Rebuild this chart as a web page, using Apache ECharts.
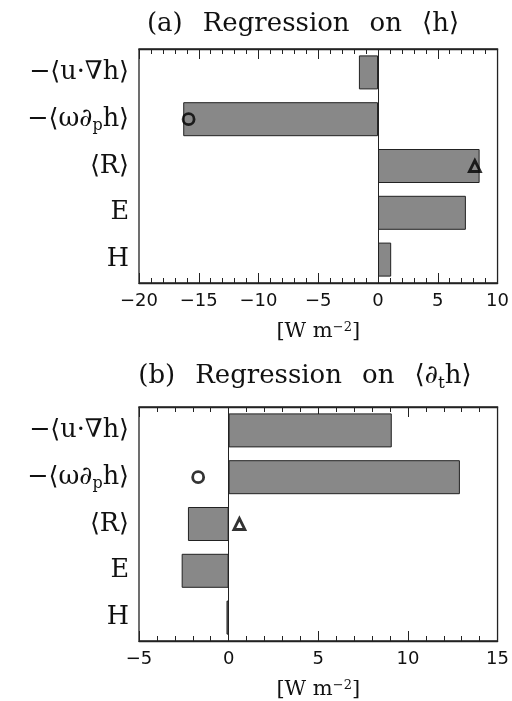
<!DOCTYPE html>
<html>
<head>
<meta charset="utf-8">
<script src="https://cdn.jsdelivr.net/npm/echarts@6/dist/echarts.min.js"></script>
<style>html,body{margin:0;padding:0;background:#fff}#c{width:512px;height:701px}</style>
</head>
<body>
<div id="c"></div>
<script>
// Categories (top to bottom)
const categories = ['uGradH', 'omegaDpH', 'R', 'E', 'H'];
const categoryLabels = ['{n|−⟨u·∇h⟩}', '{n|−⟨ω∂}{sub|p}{n|h⟩}', '{n|⟨R⟩}', '{n|E}', '{n|H}'];

// Panel (a): Regression on <h>
const barsA = [-1.6, -16.3, 8.5, 7.35, 1.1];
const circleA = [null, -15.85, null, null, null];
const triangleA = [null, null, 8.1, null, null];
const ticksA = { min: -20, max: 10, interval: 5 };

// Panel (b): Regression on <d_t h>
const barsB = [9.1, 12.9, -2.27, -2.62, -0.12];
const circleB = [null, -1.7, null, null, null];
const triangleB = [null, null, 0.6, null, null];
const ticksB = { min: -5, max: 15, interval: 5 };

const serif = 'DejaVu Serif';
const sans = 'DejaVu Sans';
const ink = '#222';

const richLabel = {
  n: { fontFamily: serif, fontSize: 25.5, color: '#111', lineHeight: 30, verticalAlign: 'middle' },
  sub: { fontFamily: serif, fontSize: 16, color: '#111', lineHeight: 15, verticalAlign: 'bottom' }
};

function pairs(arr) {
  const out = [];
  arr.forEach((v, i) => { if (v !== null) out.push([v, categories[i]]); });
  return out;
}

function fmtTick(v) { return v < 0 ? '−' + Math.abs(v) : String(v); }

const grids = [
  { left: 139, top: 49, width: 360, height: 234, show: true, borderColor: ink, borderWidth: 1.3, backgroundColor: 'transparent' },
  { left: 139, top: 407, width: 360, height: 235, show: true, borderColor: ink, borderWidth: 1.3, backgroundColor: 'transparent' }
];

function xAxes(gi, t) {
  const base = {
    gridIndex: gi, type: 'value', min: t.min, max: t.max, interval: t.interval,
    splitLine: { show: false },
    axisLine: { show: true, onZero: false, lineStyle: { color: ink, width: 1.3 } },
    axisTick: { show: true, inside: true, length: 10, lineStyle: { color: ink, width: 1 } },
    minorTick: { show: true, splitNumber: 5, length: 5, lineStyle: { color: ink, width: 1 } },
    minorSplitLine: { show: false }
  };
  return [
    Object.assign({}, base, {
      position: 'bottom',
      axisLabel: { show: true, fontFamily: sans, fontSize: 18, color: '#111', margin: 9, formatter: fmtTick },
      name: '[W m{sup|−2}]', nameLocation: 'middle', nameGap: 38,
      nameTextStyle: {
        fontFamily: serif, fontSize: 21, color: '#111',
        rich: { sup: { fontFamily: serif, fontSize: 13, color: '#111', verticalAlign: 'top', padding: [0, 0, 8, 0] } }
      }
    }),
    Object.assign({}, base, { position: 'top', axisLabel: { show: false } })
  ];
}

function yAxis(gi) {
  return {
    gridIndex: gi, type: 'category', data: categories, inverse: true,
    axisLine: { show: false }, axisTick: { show: false }, splitLine: { show: false },
    axisLabel: {
      margin: 10, color: '#111',
      formatter: (v, i) => categoryLabels[i],
      rich: richLabel
    }
  };
}

function seriesFor(k, bars, circ, tri) {
  const xi = k * 2, yi = k;
  return [
    {
      type: 'bar', xAxisIndex: xi, yAxisIndex: yi, data: bars, barWidth: 34,
      itemStyle: { color: '#888888', borderColor: ink, borderWidth: 1 },
      silent: true,
      markLine: {
        silent: true, symbol: 'none', label: { show: false },
        lineStyle: { color: ink, width: 1, type: 'solid' },
        data: [{ xAxis: 0 }]
      },
      z: 2
    },
    {
      type: 'scatter', xAxisIndex: xi, yAxisIndex: yi, data: pairs(circ),
      symbol: 'circle', symbolSize: 11,
      itemStyle: { color: 'transparent', borderColor: '#000', borderWidth: 2.8 }, z: 5
    },
    {
      type: 'scatter', xAxisIndex: xi, yAxisIndex: yi, data: pairs(tri),
      symbol: 'triangle', symbolSize: 11,
      itemStyle: { color: 'transparent', borderColor: '#000', borderWidth: 2.8 }, z: 5
    }
  ];
}

const titleRich = {
  n: { fontFamily: serif, fontSize: 26, fontWeight: 'normal', color: '#111', lineHeight: 32, verticalAlign: 'middle' },
  sp: { fontFamily: serif, fontSize: 26, fontWeight: 'normal', width: 20, lineHeight: 32 },
  sub: { fontFamily: serif, fontSize: 17, fontWeight: 'normal', color: '#111', lineHeight: 17, verticalAlign: 'bottom' }
};

const option = {
  animation: false,
  backgroundColor: '#fff',
  title: [
    { text: '{n|(a)}{sp| }{n|Regression}{sp| }{n|on}{sp| }{n|⟨h⟩}', left: 298, top: 3, textAlign: 'center', textStyle: { fontWeight: 'normal', rich: titleRich } },
    { text: '{n|(b)}{sp| }{n|Regression}{sp| }{n|on}{sp| }{n|⟨∂}{sub|t}{n|h⟩}', left: 300, top: 355, textAlign: 'center', textStyle: { fontWeight: 'normal', rich: titleRich } }
  ],
  grid: grids,
  xAxis: [...xAxes(0, ticksA), ...xAxes(1, ticksB)],
  yAxis: [yAxis(0), yAxis(1)],
  series: [...seriesFor(0, barsA, circleA, triangleA), ...seriesFor(1, barsB, circleB, triangleB)]
};

const chart = echarts.init(document.getElementById('c'), null, { renderer: 'canvas' });
chart.setOption(option);
</script>
</body>
</html>
